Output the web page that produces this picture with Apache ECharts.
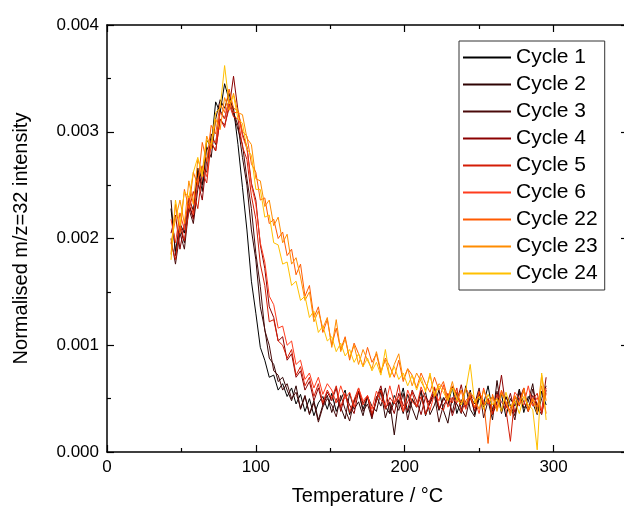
<!DOCTYPE html>
<html>
<head>
<meta charset="utf-8">
<script src="https://cdn.jsdelivr.net/npm/echarts@6/dist/echarts.min.js"></script>
<style>
html, body { margin: 0; padding: 0; background: #fff; }
#chart { width: 624px; height: 513px; }
</style>
</head>
<body>
<div id="chart"></div>
<script>
// temperature (°C), shared by all cycles
const temps = [43,46,49,52,55,58,61,64,67,70,73,76,79,82,85,88,91,94,97,100,103,106,109,112,115,118,121,124,127,130,133,136,139,142,145,148,151,154,157,160,163,166,169,172,175,178,181,184,187,190,193,196,199,202,205,208,211,214,217,220,223,226,229,232,235,238,241,244,247,250,253,256,259,262,265,268,271,274,277,280,283,286,289,292,295];

// normalised m/z=32 intensity
const cycle1 = [228e-5,188e-5,214e-5,205e-5,238e-5,226e-5,262e-5,250e-5,292e-5,286e-5,328e-5,318e-5,345e-5,330e-5,322e-5,288e-5,248e-5,208e-5,160e-5,130e-5,98e-5,86e-5,70e-5,72e-5,58e-5,64e-5,52e-5,60e-5,45e-5,54e-5,38e-5,50e-5,34e-5,46e-5,52e-5,40e-5,55e-5,38e-5,49e-5,58e-5,35e-5,47e-5,56e-5,40e-5,52e-5,33e-5,48e-5,59e-5,42e-5,36e-5,53e-5,45e-5,60e-5,37e-5,50e-5,42e-5,57e-5,34e-5,48e-5,55e-5,39e-5,51e-5,44e-5,61e-5,36e-5,49e-5,41e-5,58e-5,35e-5,50e-5,45e-5,62e-5,38e-5,47e-5,54e-5,33e-5,50e-5,43e-5,59e-5,37e-5,52e-5,46e-5,35e-5,57e-5,44e-5];
const cycle2 = [236e-5,184e-5,210e-5,196e-5,232e-5,220e-5,266e-5,244e-5,286e-5,276e-5,312e-5,330e-5,322e-5,336e-5,318e-5,306e-5,276e-5,250e-5,208e-5,180e-5,136e-5,115e-5,88e-5,82e-5,66e-5,70e-5,58e-5,48e-5,62e-5,40e-5,52e-5,36e-5,48e-5,30e-5,44e-5,53e-5,37e-5,50e-5,42e-5,31e-5,55e-5,40e-5,47e-5,34e-5,52e-5,43e-5,38e-5,57e-5,32e-5,46e-5,16e-5,49e-5,36e-5,54e-5,41e-5,30e-5,48e-5,56e-5,35e-5,44e-5,58e-5,39e-5,27e-5,51e-5,45e-5,36e-5,62e-5,40e-5,33e-5,55e-5,42e-5,48e-5,30e-5,67e-5,38e-5,52e-5,44e-5,34e-5,58e-5,41e-5,47e-5,64e-5,36e-5,50e-5,62e-5];
const cycle3 = [200e-5,176e-5,205e-5,190e-5,228e-5,214e-5,246e-5,268e-5,262e-5,298e-5,288e-5,320e-5,312e-5,330e-5,316e-5,302e-5,288e-5,256e-5,228e-5,186e-5,155e-5,114e-5,100e-5,76e-5,72e-5,58e-5,64e-5,50e-5,56e-5,41e-5,53e-5,35e-5,46e-5,28e-5,42e-5,50e-5,44e-5,33e-5,53e-5,40e-5,29e-5,48e-5,57e-5,38e-5,45e-5,31e-5,52e-5,43e-5,60e-5,36e-5,47e-5,39e-5,55e-5,30e-5,49e-5,42e-5,58e-5,35e-5,46e-5,53e-5,28e-5,44e-5,50e-5,37e-5,56e-5,41e-5,33e-5,52e-5,45e-5,60e-5,32e-5,48e-5,40e-5,57e-5,36e-5,51e-5,43e-5,30e-5,55e-5,47e-5,38e-5,59e-5,42e-5,35e-5,58e-5];
const cycle4 = [205e-5,222e-5,190e-5,214e-5,232e-5,218e-5,254e-5,236e-5,274e-5,290e-5,282e-5,312e-5,306e-5,322e-5,352e-5,320e-5,298e-5,286e-5,252e-5,236e-5,194e-5,172e-5,136e-5,126e-5,104e-5,108e-5,86e-5,92e-5,70e-5,76e-5,58e-5,66e-5,48e-5,60e-5,44e-5,56e-5,48e-5,60e-5,38e-5,54e-5,44e-5,36e-5,57e-5,46e-5,52e-5,33e-5,50e-5,62e-5,41e-5,47e-5,36e-5,55e-5,44e-5,39e-5,58e-5,48e-5,35e-5,52e-5,45e-5,60e-5,40e-5,49e-5,54e-5,34e-5,47e-5,63e-5,42e-5,51e-5,38e-5,56e-5,44e-5,50e-5,35e-5,46e-5,72e-5,41e-5,55e-5,37e-5,49e-5,60e-5,40e-5,53e-5,45e-5,38e-5,70e-5];
const cycle5 = [196e-5,180e-5,214e-5,198e-5,226e-5,244e-5,228e-5,262e-5,252e-5,290e-5,282e-5,312e-5,304e-5,326e-5,314e-5,312e-5,286e-5,274e-5,240e-5,218e-5,176e-5,156e-5,122e-5,124e-5,104e-5,100e-5,88e-5,96e-5,72e-5,80e-5,62e-5,70e-5,52e-5,64e-5,46e-5,58e-5,50e-5,62e-5,42e-5,55e-5,37e-5,49e-5,60e-5,44e-5,53e-5,36e-5,48e-5,58e-5,40e-5,51e-5,45e-5,63e-5,38e-5,47e-5,56e-5,42e-5,52e-5,35e-5,49e-5,61e-5,43e-5,39e-5,55e-5,46e-5,60e-5,37e-5,48e-5,53e-5,41e-5,57e-5,44e-5,50e-5,36e-5,54e-5,47e-5,40e-5,10e-5,52e-5,43e-5,58e-5,38e-5,49e-5,55e-5,36e-5,55e-5];
const cycle6 = [218e-5,196e-5,224e-5,208e-5,240e-5,222e-5,256e-5,268e-5,258e-5,292e-5,290e-5,318e-5,312e-5,330e-5,318e-5,318e-5,296e-5,284e-5,250e-5,232e-5,196e-5,178e-5,146e-5,138e-5,116e-5,118e-5,100e-5,104e-5,82e-5,86e-5,68e-5,74e-5,60e-5,70e-5,54e-5,64e-5,58e-5,46e-5,62e-5,50e-5,56e-5,42e-5,60e-5,48e-5,53e-5,40e-5,57e-5,49e-5,44e-5,62e-5,46e-5,52e-5,38e-5,58e-5,47e-5,43e-5,61e-5,50e-5,39e-5,55e-5,48e-5,63e-5,42e-5,51e-5,46e-5,58e-5,40e-5,54e-5,49e-5,36e-5,60e-5,45e-5,52e-5,41e-5,57e-5,47e-5,38e-5,56e-5,50e-5,44e-5,62e-5,43e-5,51e-5,39e-5,60e-5];
const cycle22 = [185e-5,232e-5,205e-5,246e-5,228e-5,262e-5,250e-5,290e-5,272e-5,306e-5,298e-5,326e-5,318e-5,340e-5,322e-5,320e-5,300e-5,296e-5,270e-5,262e-5,236e-5,238e-5,214e-5,218e-5,200e-5,206e-5,184e-5,190e-5,166e-5,176e-5,146e-5,156e-5,126e-5,136e-5,112e-5,124e-5,100e-5,116e-5,96e-5,108e-5,86e-5,102e-5,92e-5,80e-5,98e-5,84e-5,92e-5,74e-5,88e-5,80e-5,70e-5,86e-5,66e-5,78e-5,72e-5,60e-5,74e-5,64e-5,56e-5,70e-5,58e-5,66e-5,50e-5,62e-5,55e-5,46e-5,60e-5,52e-5,42e-5,56e-5,48e-5,8e-5,54e-5,40e-5,58e-5,45e-5,36e-5,52e-5,44e-5,60e-5,38e-5,50e-5,42e-5,62e-5,36e-5];
const cycle23 = [196e-5,218e-5,236e-5,214e-5,254e-5,232e-5,274e-5,262e-5,296e-5,284e-5,312e-5,302e-5,332e-5,320e-5,336e-5,318e-5,316e-5,294e-5,288e-5,256e-5,254e-5,230e-5,236e-5,212e-5,220e-5,196e-5,204e-5,176e-5,182e-5,164e-5,142e-5,150e-5,122e-5,132e-5,116e-5,126e-5,98e-5,124e-5,94e-5,106e-5,88e-5,100e-5,82e-5,96e-5,86e-5,78e-5,94e-5,76e-5,86e-5,70e-5,82e-5,92e-5,68e-5,78e-5,62e-5,74e-5,66e-5,58e-5,72e-5,54e-5,64e-5,60e-5,50e-5,66e-5,48e-5,58e-5,44e-5,56e-5,50e-5,40e-5,58e-5,46e-5,52e-5,38e-5,55e-5,47e-5,34e-5,53e-5,44e-5,58e-5,40e-5,50e-5,36e-5,72e-5,48e-5];
const cycle24 = [180e-5,236e-5,212e-5,244e-5,238e-5,262e-5,276e-5,258e-5,292e-5,288e-5,318e-5,322e-5,362e-5,326e-5,334e-5,312e-5,308e-5,284e-5,278e-5,246e-5,246e-5,220e-5,222e-5,196e-5,194e-5,176e-5,178e-5,156e-5,160e-5,142e-5,146e-5,126e-5,132e-5,112e-5,118e-5,104e-5,108e-5,94e-5,102e-5,90e-5,96e-5,84e-5,92e-5,80e-5,88e-5,76e-5,84e-5,72e-5,96e-5,70e-5,80e-5,68e-5,74e-5,62e-5,72e-5,58e-5,70e-5,56e-5,74e-5,52e-5,62e-5,56e-5,48e-5,60e-5,50e-5,44e-5,58e-5,82e-5,46e-5,52e-5,40e-5,54e-5,44e-5,50e-5,38e-5,56e-5,42e-5,48e-5,36e-5,52e-5,44e-5,40e-5,2e-5,74e-5,30e-5];

const names = ['Cycle 1', 'Cycle 2', 'Cycle 3', 'Cycle 4', 'Cycle 5', 'Cycle 6', 'Cycle 22', 'Cycle 23', 'Cycle 24'];
const colors = ['#000000', '#2e0303', '#4a0a0a', '#8b0000', '#d41c06', '#ff3c1e', '#ff5a00', '#ff8c00', '#ffc000'];
const cycles = [cycle1, cycle2, cycle3, cycle4, cycle5, cycle6, cycle22, cycle23, cycle24];

const font = 'Liberation Sans, Arial, sans-serif';

const chart = echarts.init(document.getElementById('chart'));

const tick = { show: true, inside: true, length: 7, lineStyle: { color: '#000', width: 1.2 } };
const minor = { show: true, splitNumber: 2, length: 4, lineStyle: { color: '#000', width: 1.2 } };
const line = { show: true, onZero: false, lineStyle: { color: '#000', width: 1.5 } };

chart.setOption({
  animation: false,
  backgroundColor: '#fff',
  grid: { left: 107, top: 25, right: -4, bottom: 61, outerBoundsMode: 'none', containLabel: false },
  legend: {
    orient: 'vertical',
    left: 459,
    top: 41,
    padding: [6, 7, 6, 4],
    itemGap: 6,
    itemWidth: 48,
    itemHeight: 2,
    icon: 'rect',
    borderColor: '#333',
    borderWidth: 1,
    backgroundColor: '#fff',
    data: names,
    textStyle: { fontFamily: font, fontSize: 21, color: '#000' }
  },
  xAxis: [{
    type: 'value',
    min: 0,
    max: 350,
    interval: 100,
    name: 'Temperature / °C',
    nameLocation: 'middle',
    nameGap: 34,
    nameTextStyle: { fontFamily: font, fontSize: 20, color: '#000' },
    axisLine: line,
    axisTick: tick,
    minorTick: minor,
    splitLine: { show: false },
    axisLabel: { fontFamily: font, fontSize: 17, color: '#000', margin: 7, showMaxLabel: false }
  }, {
    type: 'value',
    position: 'top',
    min: 0,
    max: 350,
    interval: 100,
    axisLine: line,
    axisTick: tick,
    minorTick: minor,
    splitLine: { show: false },
    axisLabel: { show: false }
  }],
  yAxis: [{
    type: 'value',
    min: 0,
    max: 0.004,
    interval: 0.001,
    name: 'Normalised m/z=32 intensity',
    nameLocation: 'middle',
    nameGap: 76,
    nameTextStyle: { fontFamily: font, fontSize: 20, color: '#000' },
    axisLine: line,
    axisTick: tick,
    minorTick: minor,
    splitLine: { show: false },
    axisLabel: { fontFamily: font, fontSize: 17, color: '#000', margin: 8, formatter: v => v.toFixed(3) }
  }, {
    type: 'value',
    position: 'right',
    min: 0,
    max: 0.004,
    interval: 0.001,
    axisLine: line,
    axisTick: tick,
    minorTick: minor,
    splitLine: { show: false },
    axisLabel: { show: false }
  }],
  series: cycles.map((vals, i) => ({
    name: names[i],
    type: 'line',
    xAxisIndex: 0,
    yAxisIndex: 0,
    symbol: 'none',
    lineStyle: { color: colors[i], width: 1 },
    itemStyle: { color: colors[i] },
    data: vals.map((v, j) => [temps[j], v])
  }))
});
</script>
</body>
</html>
